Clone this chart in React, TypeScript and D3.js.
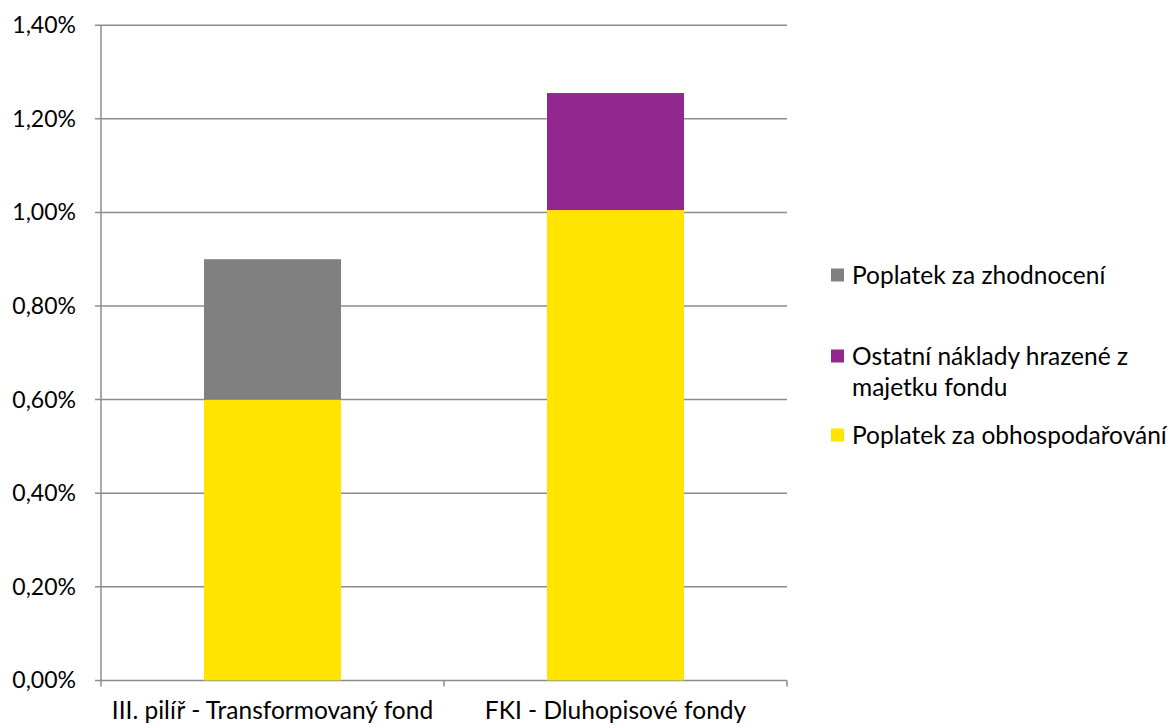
import React from "react";
import * as d3 from "d3";

const categories = ["III. pilíř - Transformovaný fond", "FKI - Dluhopisové fondy"];
const seriesNames = [
  "Poplatek za obhospodařování",
  "Ostatní náklady hrazené z majetku fondu",
  "Poplatek za zhodnocení",
];
const seriesColors = ["#FFE500", "#92278F", "#808080"];
const managementFee = [0.6, 1.005];
const otherCosts = [0, 0.25];
const performanceFee = [0.3, 0];
const yTicks = [0, 0.2, 0.4, 0.6, 0.8, 1.0, 1.2, 1.4];

const W = 1174;
const H = 728;
const left = 101;
const right = 787;
const top = 25.2;
const bottom = 680.4;
const font = "Lato, 'Open Sans', sans-serif";

export default function App() {
  const y = d3.scaleLinear().domain([0, 1.4]).range([bottom, top]);
  const rows = categories.map((c, i) => ({
    cat: c,
    s0: managementFee[i],
    s1: otherCosts[i],
    s2: performanceFee[i],
  }));
  const stacked = d3.stack<any>().keys(["s0", "s1", "s2"])(rows);
  const fmt = (v: number) => v.toFixed(2).replace(".", ",") + "%";
  const bandStep = (right - left) / categories.length;
  const bw = 137;

  const legend = [
    { idx: 2, lines: ["Poplatek za zhodnocení"], cy: 275 },
    { idx: 1, lines: ["Ostatní náklady hrazené z", "majetku fondu"], cy: 356 },
    { idx: 0, lines: ["Poplatek za obhospodařování"], cy: 435 },
  ];

  return (
    <svg width={W} height={H} style={{ position: "absolute", left: 0, top: 0, background: "#fff" }}>
      {yTicks.map((t) => (
        <g key={t}>
          <line x1={left - 6} x2={right} y1={y(t)} y2={y(t)} stroke="#8c8c8c" strokeWidth={1.5} />
          <text x={76} y={y(t)} dy="0.35em" textAnchor="end" fontFamily={font} fontSize={23} fill="#000">
            {fmt(t)}
          </text>
        </g>
      ))}
      {stacked.map((layer, li) => (
        <g key={li} fill={seriesColors[li]}>
          {layer.map((d, i) => {
            const cx = left + bandStep * (i + 0.5);
            const h = y(d[0]) - y(d[1]);
            if (h <= 0) return null;
            return <rect key={i} x={cx - bw / 2} y={y(d[1])} width={bw} height={h} />;
          })}
        </g>
      ))}
      <line x1={left} x2={left} y1={top} y2={bottom} stroke="#8c8c8c" strokeWidth={1.5} />
      {[0, 1, 2].map((i) => (
        <line key={i} x1={left + bandStep * i} x2={left + bandStep * i} y1={bottom} y2={bottom + 6} stroke="#8c8c8c" strokeWidth={1.5} />
      ))}
      {categories.map((c, i) => (
        <text key={c} x={left + bandStep * (i + 0.5)} y={719} textAnchor="middle" fontFamily={font} fontSize={24.5} fill="#000">
          {c}
        </text>
      ))}
      {legend.map((l) => (
        <g key={l.idx}>
          <rect x={831} y={l.cy - 6.5} width={13} height={13} fill={seriesColors[l.idx]} />
          {l.lines.map((ln, j) => (
            <text key={j} x={852} y={l.cy + j * 31} dy="0.35em" fontFamily={font} fontSize={24.5} fill="#000">
              {ln}
            </text>
          ))}
        </g>
      ))}
    </svg>
  );
}
